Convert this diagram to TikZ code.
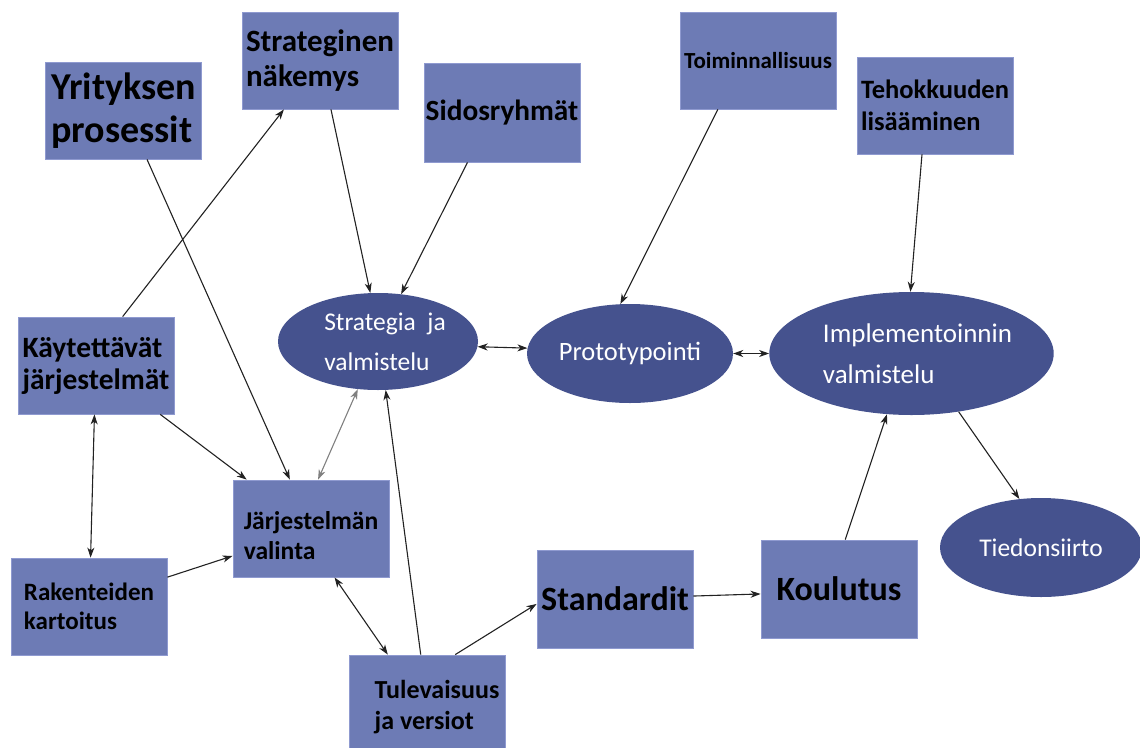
\documentclass[tikz,border=0pt]{standalone}
\usepackage{fontspec}
\setmainfont{Carlito}
\usetikzlibrary{shapes.geometric,arrows.meta,calc}

\definecolor{boxfill}{HTML}{6D7BB5}
\definecolor{boxedge}{HTML}{8F9AD0}
\definecolor{ovalfill}{HTML}{45528E}
\definecolor{linecol}{HTML}{222222}

\newcommand{\fs}[2]{\fontsize{#1pt}{#2pt}\selectfont}

\tikzset{
  box/.style={rectangle, fill=boxfill, draw=boxedge, line width=0.8pt,
    minimum width=156pt, minimum height=97pt, inner sep=0pt, align=left},
  oval/.style={ellipse, fill=ovalfill, inner sep=0pt, text=white, align=left},
  tip/.tip={Stealth[length=10pt,width=7pt,inset=3pt]},
  arr/.style={-tip, line width=1.1pt, draw=linecol},
  twoway/.style={tip-tip, line width=1.1pt, draw=linecol},
}

\begin{document}
\begin{tikzpicture}[x=1pt,y=-1pt]
\useasboundingbox (0,0) rectangle (1140,747);

% rectangular topic boxes
\node[box, font={\bfseries\fs{38}{43}}] (yp) at (123.5,110.5) {Yrityksen\\prosessit};
\node[box, font={\bfseries\fs{31}{35}}] (sn) at (320,60.5) {Strateginen\\näkemys};
\node[box, font={\bfseries\fs{29.3}{34}}, minimum width=156pt, minimum height=99pt] (sr) at (502,112.5) {Sidosryhmät};
\node[box, font={\bfseries\fs{23}{27}}] (to) at (758,60.5) {Toiminnallisuus};
\node[box, font={\bfseries\fs{26.5}{32}}] (te) at (935,105.5) {Tehokkuuden\\lisääminen};
\node[box, font={\bfseries\fs{29.5}{32}}] (kj) at (96,365.5) {Käytettävät\\järjestelmät};
\node[box, font={\bfseries\fs{25}{29}}] (rk) at (89,606.5) {Rakenteiden\\kartoitus};
\node[box, font={\bfseries\fs{25.6}{30}}] (jv) at (311,528.5) {\raisebox{0pt}[32pt]{}Järjestelmän\\valinta};
\node[box, font={\bfseries\fs{26}{31}}, minimum height=104pt] (tv) at (427,707) {\hspace*{20pt}Tulevaisuus\\\hspace*{20pt}ja versiot};
\node[box, font={\bfseries\fs{34}{40}}, minimum height=98pt] (st) at (615,599) {Standardit};
\node[box, font={\bfseries\fs{34}{40}}, minimum height=98pt] (ko) at (839,589) {Koulutus};

% process phases
\node[oval, font={\fs{25.5}{40}}, minimum width=200pt, minimum height=97pt] (sv) at (378,341.5) {\hspace*{14pt}Strategia\ \ ja\\\hspace*{14pt}valmistelu};
\node[oval, font={\fs{26.5}{30}}, minimum width=206pt, minimum height=99pt] (pr) at (630,353.5) {Prototypointi};
\node[oval, font={\fs{27}{41}}, minimum width=257pt, minimum height=123pt] (im) at (911.5,353.5) {\hspace*{12pt}Implementoinnin\\\hspace*{12pt}valmistelu};
\node[oval, font={\fs{25.5}{30}}, minimum width=202pt, minimum height=99pt] (td) at (1041,547.5) {Tiedonsiirto};

% connectors
\draw[arr] ($(kj.north west)!.67!(kj.north east)$) -- ($(sn.south west)!.27!(sn.south east)$);
\draw[arr] ($(yp.south west)!.65!(yp.south east)$) -- ($(jv.north west)!.365!(jv.north east)$);
\draw[arr] ($(sn.south west)!.57!(sn.south east)$) -- (sv.99);
\draw[arr] ($(sr.south west)!.28!(sr.south east)$) -- (sv.64);
\draw[arr] ($(to.south west)!.244!(to.south east)$) -- (pr.101);
\draw[arr] ($(te.south west)!.417!(te.south east)$) -- (im.91);
\draw[twoway] (sv.-3) -- (pr.177);
\draw[twoway] (pr.east) -- (im.west);
\draw[arr] (im.-51) -- (td.114);
\draw[arr] ($(ko.north west)!.54!(ko.north east)$) -- (im.-112);
\draw[arr] ($(st.north east)!.47!(st.south east)$) -- ($(ko.north west)!.55!(ko.south west)$);
\draw[arr] ($(tv.north west)!.68!(tv.north east)$) -- ($(st.north west)!.55!(st.south west)$);
\draw[arr] ($(tv.north west)!.46!(tv.north east)$) -- (sv.-81);
\draw[twoway] ($(jv.south west)!.65!(jv.south east)$) -- ($(tv.north west)!.25!(tv.north east)$);
\draw[twoway, draw=gray] ($(jv.north west)!.545!(jv.north east)$) -- (sv.-113);
\draw[arr] ($(kj.south west)!.91!(kj.south east)$) -- ($(jv.north west)!.09!(jv.north east)$);
\draw[twoway] ($(kj.south west)!.49!(kj.south east)$) -- ($(rk.north west)!.51!(rk.north east)$);
\draw[arr] ($(rk.north east)!.2!(rk.south east)$) -- ($(jv.north west)!.78!(jv.south west)$);
\end{tikzpicture}
\end{document}
